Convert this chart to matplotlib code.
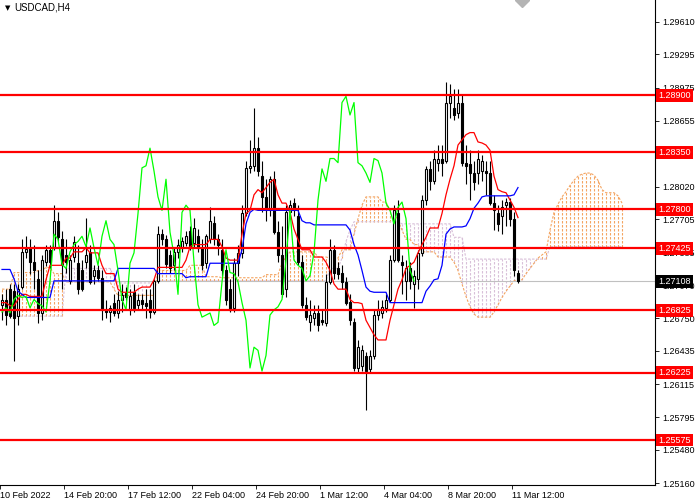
import numpy as np
import matplotlib.pyplot as plt

plt.rcParams['font.family'] = ['Liberation Sans', 'DejaVu Sans']

# -----------------------------------------------------------------------------
# USDCAD H4 candles
# -----------------------------------------------------------------------------
open_ = [1.2688, 1.2693, 1.2703, 1.2701, 1.2677, 1.2705, 1.2739, 1.2743, 1.2729, 1.2713,
         1.2680, 1.2729, 1.2741, 1.2744, 1.2769, 1.2751, 1.2736, 1.2711, 1.2734, 1.2728,
         1.2721, 1.2729, 1.2739, 1.2716, 1.2721, 1.2714, 1.2683, 1.2681, 1.2690, 1.2680,
         1.2693, 1.2699, 1.2683, 1.2700, 1.2688, 1.2693, 1.2690, 1.2693, 1.2681, 1.2711,
         1.2756, 1.2751, 1.2736, 1.2726, 1.2739, 1.2743, 1.2748, 1.2759, 1.2748, 1.2754,
         1.2743, 1.2728, 1.2751, 1.2767, 1.2751, 1.2741, 1.2721, 1.2703, 1.2685, 1.2728,
         1.2738, 1.2776, 1.2820, 1.2822, 1.2839, 1.2812, 1.2792, 1.2779, 1.2809, 1.2758,
         1.2736, 1.2703, 1.2777, 1.2786, 1.2774, 1.2729, 1.2688, 1.2671, 1.2675, 1.2680,
         1.2673, 1.2670, 1.2710, 1.2741, 1.2723, 1.2719, 1.2710, 1.2691, 1.2671, 1.2627,
         1.2629, 1.2639, 1.2626, 1.2639, 1.2678, 1.2680, 1.2685, 1.2693, 1.2731, 1.2776,
         1.2729, 1.2711, 1.2723, 1.2708, 1.2713, 1.2738, 1.2789, 1.2819, 1.2807, 1.2825,
         1.2829, 1.2827, 1.2883, 1.2878, 1.2873, 1.2883, 1.2825, 1.2824, 1.2815, 1.2815,
         1.2817, 1.2817, 1.2815, 1.2786, 1.2776, 1.2774, 1.2784, 1.2787, 1.2771, 1.2719]

high = [1.2698, 1.2703, 1.2708, 1.2708, 1.2708, 1.2751, 1.2754, 1.2751, 1.2746, 1.2721,
        1.2736, 1.2746, 1.2746, 1.2784, 1.2777, 1.2759, 1.2751, 1.2736, 1.2754, 1.2746,
        1.2731, 1.2772, 1.2746, 1.2726, 1.2726, 1.2721, 1.2693, 1.2688, 1.2698, 1.2701,
        1.2708, 1.2705, 1.2703, 1.2708, 1.2698, 1.2698, 1.2703, 1.2703, 1.2713, 1.2764,
        1.2761, 1.2755, 1.2741, 1.2743, 1.2751, 1.2753, 1.2759, 1.2764, 1.2772, 1.2761,
        1.2751, 1.2756, 1.2782, 1.2774, 1.2756, 1.2751, 1.2726, 1.2713, 1.2733, 1.2746,
        1.2784, 1.2827, 1.2847, 1.2878, 1.2850, 1.2827, 1.2809, 1.2812, 1.2817, 1.2769,
        1.2764, 1.2784, 1.2789, 1.2791, 1.2784, 1.2736, 1.2695, 1.2693, 1.2688, 1.2688,
        1.2683, 1.2718, 1.2751, 1.2746, 1.2729, 1.2726, 1.2715, 1.2698, 1.2675, 1.2654,
        1.2649, 1.2642, 1.2644, 1.2683, 1.2693, 1.2693, 1.2698, 1.2736, 1.2784, 1.2789,
        1.2736, 1.2731, 1.2729, 1.2721, 1.2741, 1.2794, 1.2822, 1.2827, 1.2837, 1.2842,
        1.2842, 1.2903, 1.2901, 1.2896, 1.2896, 1.2891, 1.2842, 1.2837, 1.2827, 1.2837,
        1.2832, 1.2827, 1.2827, 1.2794, 1.2784, 1.2789, 1.2791, 1.2791, 1.2777, 1.2721]

low = [1.2673, 1.2668, 1.2675, 1.2634, 1.2668, 1.2703, 1.2733, 1.2718, 1.2703, 1.2670,
       1.2673, 1.2725, 1.2723, 1.2741, 1.2749, 1.2703, 1.2719, 1.2708, 1.2729, 1.2698,
       1.2701, 1.2723, 1.2708, 1.2708, 1.2711, 1.2673, 1.2675, 1.2671, 1.2677, 1.2675,
       1.2681, 1.2693, 1.2678, 1.2681, 1.2683, 1.2683, 1.2675, 1.2675, 1.2679, 1.2709,
       1.2746, 1.2723, 1.2719, 1.2721, 1.2733, 1.2739, 1.2745, 1.2741, 1.2743, 1.2739,
       1.2721, 1.2723, 1.2748, 1.2746, 1.2736, 1.2716, 1.2688, 1.2681, 1.2681, 1.2716,
       1.2733, 1.2774, 1.2815, 1.2817, 1.2812, 1.2777, 1.2769, 1.2774, 1.2756, 1.2729,
       1.2695, 1.2695, 1.2771, 1.2774, 1.2726, 1.2685, 1.2673, 1.2663, 1.2668, 1.2663,
       1.2668, 1.2667, 1.2708, 1.2713, 1.2713, 1.2703, 1.2688, 1.2668, 1.2624, 1.2622,
       1.2624, 1.2586, 1.2622, 1.2636, 1.2673, 1.2675, 1.2681, 1.2691, 1.2729, 1.2729,
       1.2698, 1.2693, 1.2703, 1.2685, 1.2703, 1.2735, 1.2784, 1.2799, 1.2804, 1.2817,
       1.2812, 1.2825, 1.2868, 1.2866, 1.2868, 1.2822, 1.2804, 1.2789, 1.2799, 1.2804,
       1.2807, 1.2794, 1.2784, 1.2760, 1.2759, 1.2756, 1.2764, 1.2764, 1.2716, 1.2709]

close = [1.2693, 1.2678, 1.2677, 1.2675, 1.2703, 1.2739, 1.2742, 1.2729, 1.2721, 1.2680,
         1.2731, 1.2741, 1.2729, 1.2769, 1.2753, 1.2726, 1.2729, 1.2731, 1.2748, 1.2703,
         1.2703, 1.2736, 1.2710, 1.2721, 1.2714, 1.2683, 1.2681, 1.2685, 1.2680, 1.2693,
         1.2697, 1.2695, 1.2696, 1.2685, 1.2693, 1.2689, 1.2687, 1.2681, 1.2711, 1.2756,
         1.2751, 1.2727, 1.2723, 1.2739, 1.2746, 1.2749, 1.2754, 1.2744, 1.2762, 1.2743,
         1.2726, 1.2754, 1.2769, 1.2751, 1.2746, 1.2721, 1.2693, 1.2683, 1.2728, 1.2738,
         1.2776, 1.2820, 1.2822, 1.2839, 1.2817, 1.2792, 1.2779, 1.2809, 1.2758, 1.2736,
         1.2698, 1.2777, 1.2784, 1.2779, 1.2729, 1.2688, 1.2676, 1.2678, 1.2680, 1.2668,
         1.2671, 1.2710, 1.2741, 1.2719, 1.2718, 1.2710, 1.2690, 1.2673, 1.2627, 1.2647,
         1.2644, 1.2624, 1.2639, 1.2678, 1.2683, 1.2686, 1.2693, 1.2731, 1.2779, 1.2731,
         1.2726, 1.2723, 1.2711, 1.2716, 1.2738, 1.2789, 1.2819, 1.2807, 1.2829, 1.2829,
         1.2825, 1.2883, 1.2889, 1.2871, 1.2883, 1.2825, 1.2822, 1.2815, 1.2806, 1.2829,
         1.2827, 1.2815, 1.2786, 1.2779, 1.2766, 1.2782, 1.2787, 1.2771, 1.2721, 1.27108]

# Ichimoku lines as drawn on the chart
tenkan = [1.2690, 1.2690, 1.2687, 1.2687, 1.2693, 1.2698, 1.2698, 1.2696, 1.2696, 1.2696,
          1.2696, 1.2712, 1.2726, 1.2726, 1.2726, 1.2726, 1.2733, 1.2733, 1.2739, 1.2739,
          1.2739, 1.2743, 1.2738, 1.2738, 1.2738, 1.2726, 1.2718, 1.2718, 1.2718, 1.2703,
          1.2700, 1.2700, 1.2700, 1.2700, 1.2703, 1.2705, 1.2705, 1.2705, 1.2712, 1.2724,
          1.2724, 1.2724, 1.2724, 1.2724, 1.2724, 1.2724, 1.2731, 1.2744, 1.2746, 1.2746,
          1.2746, 1.2746, 1.2751, 1.2751, 1.2751, 1.2744, 1.2733, 1.2731, 1.2731, 1.2731,
          1.2756, 1.2776, 1.2779, 1.2794, 1.2799, 1.2796, 1.2801, 1.2806, 1.2809, 1.2794,
          1.2786, 1.2786, 1.2777, 1.2761, 1.2751, 1.2741, 1.2741, 1.2741, 1.2734, 1.2734,
          1.2734, 1.2729, 1.2721, 1.2708, 1.2703, 1.2703, 1.2703, 1.2693, 1.2690, 1.2690,
          1.2689, 1.2673, 1.2666, 1.2659, 1.2654, 1.2654, 1.2654, 1.2673, 1.2688, 1.2703,
          1.2712, 1.2723, 1.2726, 1.2729, 1.2738, 1.2746, 1.2753, 1.2762, 1.2762, 1.2762,
          1.2776, 1.2794, 1.2809, 1.2822, 1.2842, 1.2847, 1.2852, 1.2854, 1.2854, 1.2845,
          1.2844, 1.2842, 1.2837, 1.2812, 1.2799, 1.2797, 1.2796, 1.2789, 1.2782, 1.2772]

kijun = [1.2722, 1.2722, 1.2722, 1.2713, 1.2701, 1.2698, 1.2695, 1.2695, 1.2695, 1.2695,
         1.2695, 1.2695, 1.2695, 1.2711, 1.2711, 1.2711, 1.2711, 1.2711, 1.2711, 1.2711,
         1.2711, 1.2711, 1.2711, 1.2711, 1.2711, 1.2711, 1.2711, 1.2711, 1.2711, 1.2723,
         1.2723, 1.2723, 1.2723, 1.2723, 1.2723, 1.2723, 1.2723, 1.2723, 1.2723, 1.2718,
         1.2718, 1.2718, 1.2718, 1.2718, 1.2718, 1.2718, 1.2714, 1.2715, 1.2715, 1.2715,
         1.2715, 1.2715, 1.2728, 1.2728, 1.2728, 1.2728, 1.2728, 1.2728, 1.2728, 1.2728,
         1.2741, 1.2766, 1.2777, 1.2780, 1.2779, 1.2779, 1.2779, 1.2779, 1.2779, 1.2779,
         1.2779, 1.2779, 1.2779, 1.2779, 1.2779, 1.2769, 1.2767, 1.2767, 1.2765, 1.2765,
         1.2765, 1.2765, 1.2765, 1.2765, 1.2765, 1.2765, 1.2765, 1.2760, 1.2746, 1.2736,
         1.2721, 1.2705, 1.2701, 1.2700, 1.2700, 1.2700, 1.2700, 1.2690, 1.2690, 1.2690,
         1.2690, 1.2690, 1.2690, 1.2690, 1.2690, 1.2690, 1.2701, 1.2706, 1.2712, 1.2713,
         1.2726, 1.2756, 1.2761, 1.2763, 1.2763, 1.2763, 1.2764, 1.2771, 1.2781, 1.2786,
         1.2792, 1.2793, 1.2793, 1.2793, 1.2793, 1.2793, 1.2793, 1.2793, 1.2794, 1.2801]

# cloud spans, already shifted 26 bars ahead
senkou_a = [1.2703, 1.2703, 1.2703, 1.2719, 1.2719, 1.2719, 1.2719, 1.2719, 1.2719, 1.2721,
            1.2721, 1.2724, 1.2724, 1.2718, 1.2718, 1.2718, 1.2710, 1.2710, 1.2710, 1.2710,
            1.2710, 1.2710, 1.2710, 1.2710, 1.2710, 1.2710, 1.2710, 1.2710, 1.2703, 1.2697,
            1.2697, 1.2697, 1.2697, 1.2697, 1.2697, 1.2697, 1.2697, 1.2697, 1.2697, 1.2721,
            1.2721, 1.2721, 1.2721, 1.2721, 1.2721, 1.2721, 1.2721, 1.2726, 1.2726, 1.2726,
            1.2726, 1.2715, 1.2715, 1.2715, 1.2715, 1.2714, 1.2714, 1.2714, 1.2714, 1.2714,
            1.2714, 1.2714, 1.2714, 1.2714, 1.2714, 1.2714, 1.2717, 1.2717, 1.2717, 1.2717,
            1.2728, 1.2734, 1.2739, 1.2739, 1.2739, 1.2739, 1.2739, 1.2739, 1.2739, 1.2734,
            1.2734, 1.2734, 1.2733, 1.2733, 1.2733, 1.2741, 1.2741, 1.2741, 1.2756, 1.2771,
            1.2784, 1.2792, 1.2792, 1.2792, 1.2792, 1.2787, 1.2787, 1.2779, 1.2779, 1.2769,
            1.2760, 1.2751, 1.2751, 1.2746, 1.2746, 1.2739, 1.2739, 1.2739, 1.2739, 1.2734,
            1.2734, 1.2734, 1.2734, 1.2729, 1.2721, 1.2708, 1.2696, 1.2686, 1.2679, 1.2676,
            1.2676, 1.2676, 1.2676, 1.2681, 1.2688, 1.2695, 1.2701, 1.2706, 1.2711, 1.2712,
            1.2712, 1.2718, 1.2723, 1.2728, 1.2733, 1.2736, 1.2739, 1.2760, 1.2777, 1.2785,
            1.2792, 1.2797, 1.2803, 1.2808, 1.2812, 1.2814, 1.2815, 1.2815, 1.2813, 1.2808,
            1.2799, 1.2796, 1.2796, 1.2796, 1.2793, 1.2786]

senkou_b = [1.2681, 1.2681, 1.2681, 1.2677, 1.2677, 1.2677, 1.2677, 1.2677, 1.2677, 1.2677,
            1.2677, 1.2677, 1.2677, 1.2677, 1.2677, 1.2677, 1.2723, 1.2723, 1.2723, 1.2723,
            1.2723, 1.2723, 1.2723, 1.2723, 1.2723, 1.2723, 1.2723, 1.2723, 1.2715, 1.2709,
            1.2709, 1.2709, 1.2709, 1.2709, 1.2709, 1.2709, 1.2709, 1.2709, 1.2709, 1.2711,
            1.2711, 1.2711, 1.2711, 1.2711, 1.2711, 1.2711, 1.2711, 1.2711, 1.2711, 1.2711,
            1.2711, 1.2711, 1.2711, 1.2711, 1.2711, 1.2711, 1.2711, 1.2711, 1.2711, 1.2711,
            1.2711, 1.2711, 1.2711, 1.2711, 1.2711, 1.2711, 1.2711, 1.2711, 1.2711, 1.2711,
            1.2711, 1.2711, 1.2711, 1.2711, 1.2711, 1.2711, 1.2711, 1.2711, 1.2711, 1.2711,
            1.2711, 1.2711, 1.2723, 1.2723, 1.2723, 1.2733, 1.2749, 1.2760, 1.2768, 1.2768,
            1.2768, 1.2768, 1.2768, 1.2768, 1.2768, 1.2768, 1.2768, 1.2768, 1.2768, 1.2768,
            1.2766, 1.2766, 1.2766, 1.2766, 1.2766, 1.2766, 1.2766, 1.2766, 1.2766, 1.2766,
            1.2766, 1.2766, 1.2766, 1.2753, 1.2753, 1.2753, 1.2732, 1.2732, 1.2732, 1.2732,
            1.2732, 1.2732, 1.2732, 1.2732, 1.2732, 1.2732, 1.2732, 1.2732, 1.2732, 1.2732,
            1.2732, 1.2732, 1.2732, 1.2732, 1.2732, 1.2732, 1.2732, 1.2744, 1.2744, 1.2744,
            1.2744, 1.2744, 1.2744, 1.2744, 1.2744, 1.2744, 1.2744, 1.2744, 1.2744, 1.2744,
            1.2744, 1.2744, 1.2744, 1.2744, 1.2744, 1.2744]

chikou_shift = 26

# horizontal levels drawn by hand on the chart
levels = [1.28900, 1.28350, 1.27800, 1.27425, 1.26825, 1.26225, 1.25575]
last_price = 1.27108

price_ticks = [1.25160, 1.25480, 1.25795, 1.26115, 1.26435, 1.26750, 1.27070, 1.27385,
               1.27705, 1.28020, 1.28335, 1.28655, 1.28975, 1.29295, 1.29610]
hidden_ticks = [1.28335]  # fully covered by the 1.28350 label
time_tick_bars = [0, 16, 32, 48, 64, 80, 96, 112, 128]
time_labels = ['10 Feb 2022', '14 Feb 20:00', '17 Feb 12:00', '22 Feb 04:00',
               '24 Feb 20:00', '1 Mar 12:00', '4 Mar 04:00', '8 Mar 20:00', '11 Mar 12:00']

# =============================================================================
# Figure
# =============================================================================
fig = plt.figure(figsize=(7, 5), dpi=100)
ax = fig.add_axes([0, 15 / 500, 655 / 700, 485 / 500])
ax.set_xlim(-0.5, 655 / 4 - 0.5)
ax.set_ylim(1.25141, 1.29819)

# --- cloud (vertical dotted hatching between span A and span B) ---
sa = np.array(senkou_a)
sb = np.array(senkou_b)
jj = np.arange(len(sa))
bull = sa >= sb
dash = (0, (2.2, 1.4))
ax.vlines(jj[bull], sb[bull], sa[bull], colors='#F4A460', linestyles=dash, lw=0.8, zorder=1)
ax.vlines(jj[~bull], sa[~bull], sb[~bull], colors='#D8BFD8', linestyles=dash, lw=0.8, zorder=1)
ax.plot(jj, sa, color='#F4A460', ls=dash, lw=0.8, zorder=1)
ax.plot(jj, sb, color='#D8BFD8', ls=dash, lw=0.8, zorder=1)

# --- last price line ---
ax.axhline(last_price, color='#C0C0C0', lw=0.8, zorder=1.5)

# --- candles ---
o = np.array(open_)
h = np.array(high)
l = np.array(low)
c = np.array(close)
idx = np.arange(len(c))
up = c >= o
ax.vlines(idx, l, h, colors='black', lw=0.8, zorder=3)
ax.bar(idx[up], (c - o)[up], bottom=o[up], width=0.55, facecolor='white',
       edgecolor='black', lw=0.8, zorder=3.5)
ax.bar(idx[~up], (c - o)[~up], bottom=o[~up], width=0.55, facecolor='black',
       edgecolor='black', lw=0.8, zorder=3.5)

# --- ichimoku lines ---
ax.plot(idx, tenkan, color='#FF0000', lw=0.9, zorder=4)
ax.plot(idx, kijun, color='#0000FF', lw=0.9, zorder=4)
ax.plot(idx[chikou_shift:] - chikou_shift, c[chikou_shift:], color='#00FF00', lw=0.9, zorder=4)

# --- support / resistance levels ---
for lvl in levels:
    ax.axhline(lvl, color='#FF0000', lw=1.6, zorder=6)
    ax.text(1.005, lvl, f'{lvl:.5f}', transform=ax.get_yaxis_transform(),
            ha='left', va='center', fontsize=6.5, color='white', clip_on=False, zorder=10,
            bbox=dict(boxstyle='square,pad=0.22', fc='#FF0000', ec='none'))
ax.text(1.005, last_price, f'{last_price:.5f}', transform=ax.get_yaxis_transform(),
        ha='left', va='center', fontsize=6.5, color='white', clip_on=False, zorder=10,
        bbox=dict(boxstyle='square,pad=0.22', fc='black', ec='none'))

# --- axes look (MT4 style) ---
for side in ('top', 'left'):
    ax.spines[side].set_visible(False)
for side in ('right', 'bottom'):
    ax.spines[side].set_color('black')
    ax.spines[side].set_linewidth(0.8)

ax.yaxis.tick_right()
ax.set_yticks(price_ticks)
ax.set_yticklabels(['' if t in hidden_ticks else f'{t:.5f}' for t in price_ticks])
ax.tick_params(axis='y', direction='out', length=3, width=0.6, pad=2, labelsize=6.5)

ax.set_xticks([b - 0.5 for b in time_tick_bars])
ax.set_xticklabels(time_labels, ha='left')
ax.tick_params(axis='x', direction='out', length=3, width=0.6, pad=1, labelsize=6.5)

# chart shift marker at the top
ax.plot([130], [1.29819], marker='D', markersize=7, color='#B4B4B4', clip_on=True, zorder=7)

# symbol caption
fig.text(5 / 700, 1 - 8 / 500, '\u25BC', fontsize=5, va='center', ha='left',
         family=['DejaVu Sans'])
fig.text(14 / 700, 1 - 8 / 500, 'USDCAD,H4', fontsize=7, va='center', ha='left')

fig.savefig('out.png', dpi=100)
